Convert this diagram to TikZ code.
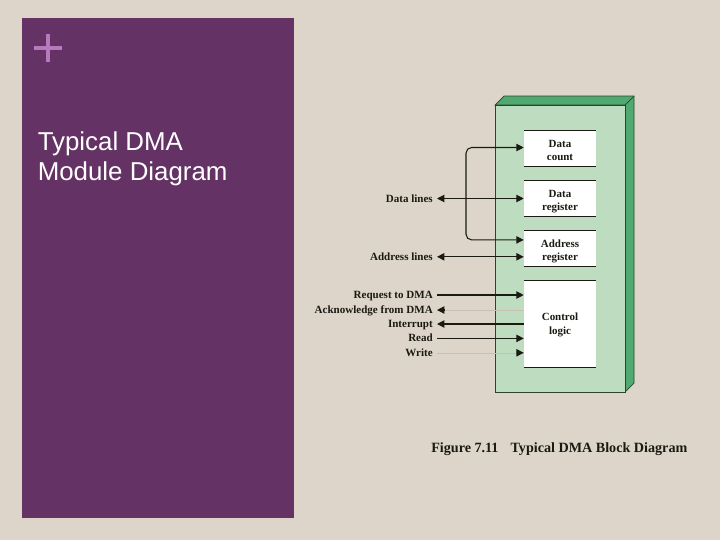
\documentclass[tikz,border=0pt]{standalone}
\usepackage{fontspec}
\setmainfont{Liberation Serif}
\newfontfamily\slidefont{Liberation Sans}
\usepackage{tikz}
\usetikzlibrary{arrows.meta,positioning,calc}
\definecolor{paper}{HTML}{DDD5C9}
\definecolor{panel}{HTML}{643264}
\definecolor{plus}{HTML}{B878C0}
\definecolor{modfront}{HTML}{BEDDC0}
\definecolor{modside}{HTML}{50A970}
\definecolor{ink}{HTML}{1A1A12}

\begin{document}
\begin{tikzpicture}[
  x=0.025cm,y=-0.025cm,
  regbox/.style={fill=white,inner sep=0pt,minimum width=1.8cm,minimum height=0.9cm,
                 align=center,text=ink,text height=19pt,text depth=1.6pt,
                 font=\fontsize{7.8}{9.6}\selectfont\bfseries},
  sig/.style={anchor=east,inner ysep=0pt,inner xsep=2.8pt,text height=6pt,text depth=1pt,
              text=ink,font=\fontsize{7.85}{9.6}\selectfont\bfseries},
  arr/.style={-{Stealth[length=5.2pt,width=5.2pt,inset=0pt]},line width=0.75pt,draw=ink},
  dbl/.style={{Stealth[length=5.2pt,width=5.2pt,inset=0pt]}-{Stealth[length=5.2pt,width=5.2pt,inset=0pt]},line width=0.75pt,draw=ink},
  faint/.style={line width=0.3pt,draw=paper!88!ink}
]
  \useasboundingbox (0,0) rectangle (720,540);
  \fill[paper] (0,0) rectangle (720,540);

  % Left panel with plus sign and title
  \fill[panel] (22,18) rectangle (294,518);
  \fill[plus] (34,46) rectangle (62,50);
  \fill[plus] (46,34) rectangle (50,62);
  \node[anchor=north west,inner sep=0pt,align=left,text=white,
        font=\fontsize{18.4}{22}\selectfont\slidefont] (title) at (37.5,131) {Typical DMA\\Module Diagram};

  % Module block: front, top and side faces
  \draw[fill=modside,draw=ink!70!modside,line width=0.5pt] (495,105) -- (504,96) -- (634,96) -- (634,383) -- (625,392) -- (625,105) -- cycle;
  \draw[ink!70!modside,line width=0.5pt] (625,105) -- (634,96);
  \draw[fill=modfront,draw=ink!70!modside,line width=0.5pt] (495,105) rectangle (625,392);

  % Registers and control logic
  \node[regbox] (dcount) at (560,148.5) {Data\\count};
  \node[regbox] (dreg)   at (560,198.5) {Data\\register};
  \node[regbox] (areg)   at (560,248.5) {Address\\register};
  \node[regbox,minimum height=2.16cm,text height=16pt] (ctrl) at (560,324) {Control\\logic};

  % Only top and bottom edges of the boxes are ruled
  \foreach \n in {dcount,dreg,areg,ctrl} {
    \draw[ink,line width=0.75pt] (\n.north west) -- (\n.north east);
    \draw[ink,line width=0.75pt] (\n.south west) -- (\n.south east);
  }

  % Signal labels
  \node[sig] (dlines) at (437,198.5) {Data lines};
  \node[sig] (alines) at (437,256.8) {Address lines};
  \node[sig] (req)    at (437,295)   {Request to DMA};
  \node[sig] (ack)    at (437,310)   {Acknowledge from DMA};
  \node[sig] (intr)   at (437,324)   {Interrupt};
  \node[sig] (rd)     at (437,338.4) {Read};
  \node[sig] (wr)     at (437,352.8) {Write};
  \node[anchor=west,inner sep=0pt,text=ink,font=\fontsize{10.05}{12}\selectfont\bfseries] (cap) at (431,449)
    {Figure 7.11\hspace{0.85em}Typical DMA Block Diagram};

  % Entry points on the register and control boxes
  \coordinate (dcin) at ($(dcount.west)+(0,-1)$);
  \coordinate (arin) at ($(areg.west)+(0,-8.6)$);
  \coordinate (alin) at (areg.west |- alines);
  \coordinate (rqin) at (ctrl.west |- req);
  \coordinate (akin) at (ctrl.west |- ack);
  \coordinate (rdin) at (ctrl.west |- rd);
  \coordinate (wrin) at (ctrl.west |- wr);

  % Internal bus from data count to address register
  \draw[dbl,rounded corners=4pt] (dcin) -- (466,147.5) -- (466,239.9) -- (arin);

  % Data and address lines
  \draw[dbl] (dlines.east) -- (dreg.west);
  \draw[dbl] (alines.east) -- (alin);

  % Control signals
  \draw[arr] (req.east) -- (rqin);
  \draw[faint] (ack.east) -- (akin);
  \draw[arr] ($(ack.east)+(7,0)$) -- (ack.east);
  \draw[arr] (ctrl.west) -- (intr.east);
  \draw[arr] (rd.east) -- (rdin);
  \draw[faint] (wr.east) -- (wrin);
  \draw[arr] ($(wrin)+(-7,0)$) -- (wrin);
\end{tikzpicture}
\end{document}
